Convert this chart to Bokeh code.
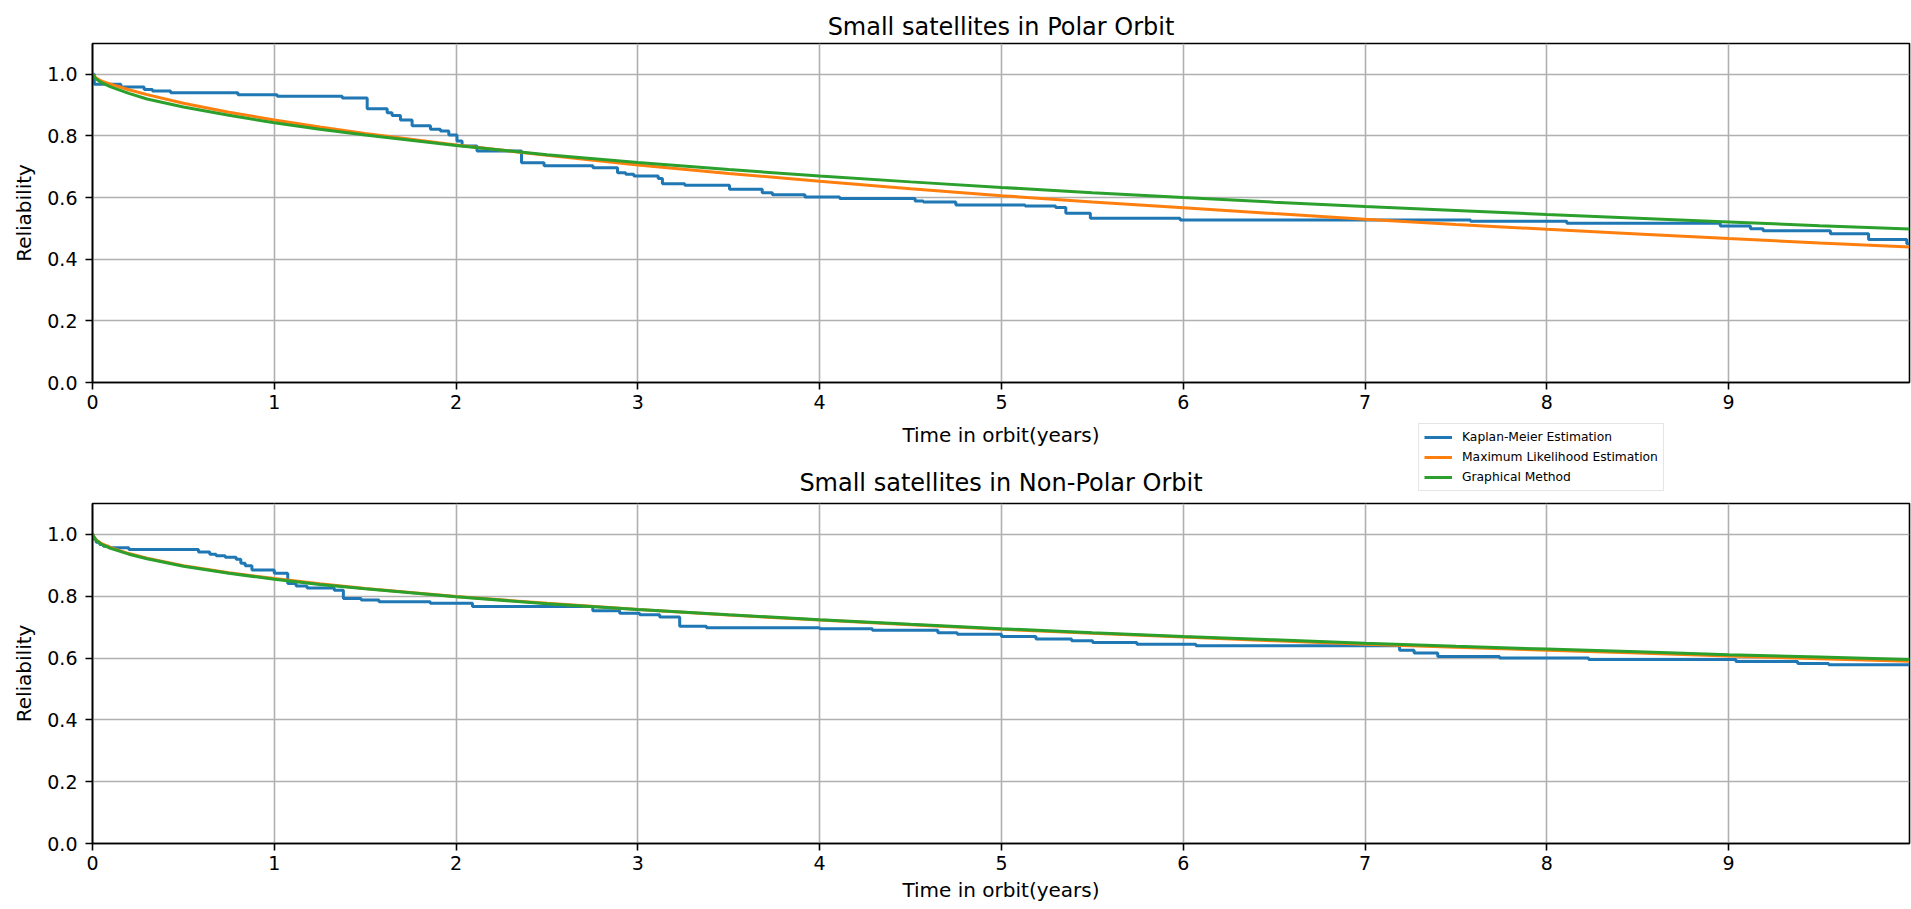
from bokeh.plotting import figure
from bokeh.layouts import column
from bokeh.models import (Range1d, FixedTicker, PrintfTickFormatter, Legend,
                          LegendItem, Label)
from bokeh.embed import file_html
from bokeh.resources import INLINE

# ---------------- data ----------------
x_ticks = [0, 1, 2, 3, 4, 5, 6, 7, 8, 9]
y_ticks = [0.0, 0.2, 0.4, 0.6, 0.8, 1.0]

series_names = ["Kaplan-Meier Estimation", "Maximum Likelihood Estimation", "Graphical Method"]

# Polar orbit - Kaplan-Meier step estimate
polar_km_t = [0.0, 0.01, 0.156, 0.284, 0.33, 0.43, 0.80, 1.016, 1.374, 1.511, 1.621, 1.648,
              1.694, 1.758, 1.859, 1.914, 1.96, 2.005, 2.033, 2.115, 2.36, 2.484, 2.753,
              2.888, 2.933, 2.978, 3.112, 3.135, 3.258, 3.504, 3.684, 3.74, 3.919, 4.11,
              4.525, 4.57, 4.749, 5.13, 5.298, 5.354, 5.489, 5.983, 7.58, 8.11, 8.954,
              9.12, 9.19, 9.56, 9.77, 9.98, 9.995]
polar_km_r = [1.0, 0.968, 0.959, 0.951, 0.946, 0.940, 0.934, 0.929, 0.923, 0.888, 0.875, 0.866,
              0.852, 0.833, 0.822, 0.816, 0.803, 0.784, 0.767, 0.751, 0.713, 0.703, 0.697,
              0.681, 0.676, 0.670, 0.662, 0.645, 0.640, 0.627, 0.616, 0.609, 0.602, 0.597,
              0.589, 0.586, 0.576, 0.573, 0.568, 0.549, 0.533, 0.527, 0.523, 0.517, 0.508,
              0.499, 0.492, 0.483, 0.464, 0.450, 0.450]

# smooth fitted curves, sampled at these times
curve_t = [0.0, 0.02, 0.05, 0.1, 0.2, 0.3, 0.5, 0.75, 1.0, 1.25, 1.5, 2.0, 2.5, 3.0, 3.5, 4.0,
           4.5, 5.0, 5.5, 6.0, 6.5, 7.0, 7.5, 8.0, 8.5, 9.0, 9.5, 9.995]
polar_mle_r = [1.0, 0.988, 0.978, 0.968, 0.950, 0.934, 0.906, 0.877, 0.852, 0.829, 0.808, 0.771,
               0.737, 0.706, 0.678, 0.653, 0.629, 0.606, 0.586, 0.567, 0.548, 0.530, 0.513,
               0.497, 0.482, 0.467, 0.453, 0.440]
polar_gm_r = [1.0, 0.985, 0.973, 0.959, 0.938, 0.920, 0.894, 0.867, 0.843, 0.822, 0.803, 0.769,
              0.739, 0.714, 0.691, 0.670, 0.651, 0.633, 0.616, 0.600, 0.585, 0.571, 0.558,
              0.545, 0.533, 0.521, 0.509, 0.498]

# Non-polar orbit - Kaplan-Meier step estimate
nonpolar_km_t = [0.0, 0.005, 0.02, 0.04, 0.06, 0.09, 0.2, 0.583, 0.645, 0.68, 0.73, 0.79, 0.816,
                 0.84, 0.877, 1.0, 1.074, 1.12, 1.18, 1.33, 1.38, 1.478, 1.576, 1.858, 2.09,
                 2.752, 2.9, 3.01, 3.12, 3.23, 3.377, 4.0, 4.29, 4.65, 4.757, 5.0, 5.19, 5.386,
                 5.502, 5.745, 6.07, 7.19, 7.27, 7.40, 7.74, 8.23, 9.04, 9.38, 9.55, 9.995]
nonpolar_km_r = [1.0, 0.985, 0.975, 0.967, 0.962, 0.957, 0.951, 0.943, 0.936, 0.931, 0.926, 0.920,
                 0.907, 0.899, 0.885, 0.874, 0.841, 0.833, 0.827, 0.819, 0.793, 0.788, 0.782,
                 0.777, 0.767, 0.753, 0.745, 0.740, 0.733, 0.703, 0.698, 0.695, 0.690, 0.682,
                 0.677, 0.670, 0.662, 0.656, 0.650, 0.645, 0.640, 0.625, 0.616, 0.605, 0.600,
                 0.595, 0.589, 0.582, 0.578, 0.578]
nonpolar_mle_r = [1.0, 0.982, 0.970, 0.957, 0.938, 0.923, 0.899, 0.876, 0.857, 0.840, 0.825,
                  0.799, 0.777, 0.757, 0.739, 0.723, 0.708, 0.693, 0.680, 0.668, 0.656, 0.645,
                  0.635, 0.625, 0.616, 0.607, 0.598, 0.590]
nonpolar_gm_r = [1.0, 0.980, 0.968, 0.955, 0.936, 0.921, 0.897, 0.874, 0.855, 0.838, 0.824,
                 0.798, 0.776, 0.757, 0.740, 0.724, 0.709, 0.695, 0.682, 0.670, 0.659, 0.648,
                 0.638, 0.629, 0.620, 0.611, 0.603, 0.595]

titles = ["Small satellites in Polar Orbit", "Small satellites in Non-Polar Orbit"]
x_label = "Time in orbit(years)"
y_label = "Reliability"

# ---------------- styling ----------------
FONT = "DejaVu Sans"
COLORS = ["#1f77b4", "#ff7f0e", "#2ca02c"]
LW = 3
W = 1911
FRAME_LEFT, FRAME_RIGHT = 92, 2
X_END = 9.995


def style_axes(p, with_x_label):
    p.background_fill_color = "white"
    p.border_fill_color = "white"
    p.outline_line_color = "black"
    p.outline_line_width = 1.6
    p.xaxis.ticker = FixedTicker(ticks=x_ticks)
    p.yaxis.ticker = FixedTicker(ticks=y_ticks)
    p.yaxis.formatter = PrintfTickFormatter(format="%.1f")
    if with_x_label:
        p.xaxis.axis_label = x_label
    p.yaxis.axis_label = y_label
    for ax in (p.xaxis, p.yaxis):
        ax.axis_label_text_font = FONT
        ax.axis_label_text_font_size = "20px"
        ax.axis_label_text_font_style = "normal"
        ax.axis_label_text_color = "black"
        ax.major_label_text_font = FONT
        ax.major_label_text_font_size = "19px"
        ax.major_label_text_color = "black"
        ax.axis_line_color = "black"
        ax.axis_line_width = 1.6
        ax.major_tick_line_color = "black"
        ax.major_tick_line_width = 1.6
        ax.major_tick_out = 7
        ax.major_tick_in = 0
        ax.minor_tick_out = 0
        ax.minor_tick_in = 0
    p.xaxis.major_label_standoff = 5
    p.xaxis.axis_label_standoff = 5
    p.yaxis.major_label_standoff = 8
    p.yaxis.axis_label_standoff = 8
    for g in (p.xgrid, p.ygrid):
        g.grid_line_color = "#b0b0b0"
        g.grid_line_width = 1.6
    p.xgrid.ticker = FixedTicker(ticks=x_ticks)
    p.ygrid.ticker = FixedTicker(ticks=y_ticks)


def draw(p, km_t, km_r, mle_r, gm_r):
    p.step(x=km_t, y=km_r, mode="after", line_color=COLORS[0], line_width=LW)
    p.line(x=curve_t, y=mle_r, line_color=COLORS[1], line_width=LW)
    p.line(x=curve_t, y=gm_r, line_color=COLORS[2], line_width=LW)


# ---- upper panel (polar) ----
p1 = figure(width=W, height=418, output_backend="svg", toolbar_location=None,
            x_range=Range1d(0, X_END), y_range=Range1d(0, 1.1), title=titles[0],
            min_border_left=FRAME_LEFT, min_border_right=FRAME_RIGHT,
            min_border_top=43, min_border_bottom=36)
p1.title.text_font = FONT
p1.title.text_font_size = "24px"
p1.title.text_font_style = "normal"
p1.title.text_color = "black"
p1.title.align = "center"
p1.title.vertical_align = "top"
p1.title.standoff = 2
style_axes(p1, with_x_label=False)
draw(p1, polar_km_t, polar_km_r, polar_mle_r, polar_gm_r)

# ---- strip between the panels: x label of upper panel, legend, lower title ----
SH = 84
strip = figure(width=W, height=SH, output_backend="svg", toolbar_location=None,
               x_range=Range1d(0, X_END), y_range=Range1d(SH, 0),
               x_axis_type=None, y_axis_type=None,
               min_border_left=FRAME_LEFT, min_border_right=FRAME_RIGHT,
               min_border_top=0, min_border_bottom=0)
strip.outline_line_color = None
strip.grid.visible = False
strip.background_fill_color = "white"
strip.border_fill_color = "white"

strip.add_layout(Label(x=X_END / 2, y=16, text=x_label, text_align="center",
                       text_baseline="alphabetic", text_font=FONT, text_font_size="20px",
                       text_color="black"))
strip.add_layout(Label(x=X_END / 2, y=64, text=titles[1], text_align="center",
                       text_baseline="alphabetic", text_font=FONT, text_font_size="24px",
                       text_color="black"))

# legend key samples (kept outside the visible strip range)
key_renderers = [strip.line(x=[-3, -2], y=[10, 10], line_color=c, line_width=LW)
                 for c in COLORS]
legend = Legend(items=[LegendItem(label=n, renderers=[r])
                       for n, r in zip(series_names, key_renderers)],
                location=(1418 - FRAME_LEFT, 11), orientation="vertical",
                label_text_font=FONT, label_text_font_size="12.3px", label_text_color="black",
                label_height=16, glyph_height=16, glyph_width=28, label_standoff=10,
                spacing=4, padding=5, margin=0,
                border_line_color="#cccccc", border_line_width=1.5,
                background_fill_color="white", background_fill_alpha=0.8)
strip.add_layout(legend, "center")

# ---- lower panel (non-polar) ----
p2 = figure(width=W, height=909 - 418 - SH, output_backend="svg", toolbar_location=None,
            x_range=Range1d(0, X_END), y_range=Range1d(0, 1.1),
            min_border_left=FRAME_LEFT, min_border_right=FRAME_RIGHT,
            min_border_top=1, min_border_bottom=66)
style_axes(p2, with_x_label=True)
draw(p2, nonpolar_km_t, nonpolar_km_r, nonpolar_mle_r, nonpolar_gm_r)

layout = column(p1, strip, p2, spacing=0)
open("out.html", "w").write(file_html(layout, INLINE))
